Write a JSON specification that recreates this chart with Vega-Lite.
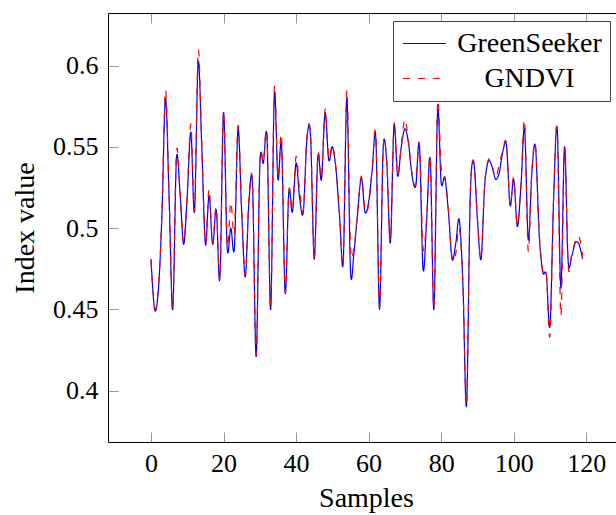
{
  "$schema": "https://vega.github.io/schema/vega-lite/v6.json",
  "autosize": {"type": "none"},
  "padding": {"left": 108, "top": 13, "right": 0, "bottom": 73},
  "width": 508,
  "height": 429,
  "config": {
    "view": {"stroke": null},
    "font": "Liberation Serif",
    "axis": {
      "grid": false,
      "tickSize": -10,
      "tickColor": "#999999",
      "tickWidth": 1,
      "domainColor": "black",
      "domainWidth": 1,
      "labelFont": "Liberation Serif",
      "labelFontSize": 26,
      "labelColor": "black",
      "titleFont": "Liberation Serif",
      "titleFontSize": 28,
      "titleFontWeight": "normal",
      "titleColor": "black"
    },
    "legend": {
      "orient": "none", "legendX": 285, "legendY": 8, "title": null,
      "strokeColor": "#444444", "fillColor": "white", "padding": 8,
      "labelFont": "Liberation Serif", "labelFontSize": 28, "labelColor": "black",
      "labelAlign": "center", "labelOffset": 99.5, "labelLimit": 400,
      "symbolType": "M-0.93,0H2.26", "symbolSize": 729, "symbolStrokeWidth": 1.2,
      "rowPadding": 6, "cornerRadius": 0
    }
  },
  "data": {
    "values": [
      {"x": 0, "GreenSeeker": 0.481, "GNDVI": 0.480},
      {"x": 1, "GreenSeeker": 0.450, "GNDVI": 0.451},
      {"x": 2, "GreenSeeker": 0.461, "GNDVI": 0.462},
      {"x": 3, "GreenSeeker": 0.507, "GNDVI": 0.508},
      {"x": 4, "GreenSeeker": 0.580, "GNDVI": 0.585},
      {"x": 5, "GreenSeeker": 0.518, "GNDVI": 0.520},
      {"x": 6, "GreenSeeker": 0.450, "GNDVI": 0.451},
      {"x": 7, "GreenSeeker": 0.542, "GNDVI": 0.546},
      {"x": 8, "GreenSeeker": 0.522, "GNDVI": 0.523},
      {"x": 9, "GreenSeeker": 0.490, "GNDVI": 0.491},
      {"x": 10, "GreenSeeker": 0.520, "GNDVI": 0.522},
      {"x": 11, "GreenSeeker": 0.559, "GNDVI": 0.564},
      {"x": 12, "GreenSeeker": 0.510, "GNDVI": 0.511},
      {"x": 13, "GreenSeeker": 0.602, "GNDVI": 0.609},
      {"x": 14, "GreenSeeker": 0.550, "GNDVI": 0.552},
      {"x": 15, "GreenSeeker": 0.490, "GNDVI": 0.491},
      {"x": 16, "GreenSeeker": 0.520, "GNDVI": 0.524},
      {"x": 17, "GreenSeeker": 0.490, "GNDVI": 0.491},
      {"x": 18, "GreenSeeker": 0.511, "GNDVI": 0.513},
      {"x": 19, "GreenSeeker": 0.469, "GNDVI": 0.470},
      {"x": 20, "GreenSeeker": 0.571, "GNDVI": 0.572},
      {"x": 21, "GreenSeeker": 0.488, "GNDVI": 0.490},
      {"x": 22, "GreenSeeker": 0.500, "GNDVI": 0.516},
      {"x": 23, "GreenSeeker": 0.488, "GNDVI": 0.497},
      {"x": 24, "GreenSeeker": 0.561, "GNDVI": 0.563},
      {"x": 25, "GreenSeeker": 0.510, "GNDVI": 0.512},
      {"x": 26, "GreenSeeker": 0.470, "GNDVI": 0.471},
      {"x": 27, "GreenSeeker": 0.516, "GNDVI": 0.518},
      {"x": 28, "GreenSeeker": 0.526, "GNDVI": 0.527},
      {"x": 29, "GreenSeeker": 0.421, "GNDVI": 0.422},
      {"x": 30, "GreenSeeker": 0.538, "GNDVI": 0.539},
      {"x": 31, "GreenSeeker": 0.540, "GNDVI": 0.541},
      {"x": 32, "GreenSeeker": 0.555, "GNDVI": 0.556},
      {"x": 33, "GreenSeeker": 0.450, "GNDVI": 0.451},
      {"x": 34, "GreenSeeker": 0.582, "GNDVI": 0.586},
      {"x": 35, "GreenSeeker": 0.530, "GNDVI": 0.531},
      {"x": 36, "GreenSeeker": 0.551, "GNDVI": 0.556},
      {"x": 37, "GreenSeeker": 0.460, "GNDVI": 0.461},
      {"x": 38, "GreenSeeker": 0.522, "GNDVI": 0.523},
      {"x": 39, "GreenSeeker": 0.510, "GNDVI": 0.511},
      {"x": 40, "GreenSeeker": 0.540, "GNDVI": 0.544},
      {"x": 41, "GreenSeeker": 0.518, "GNDVI": 0.523},
      {"x": 42, "GreenSeeker": 0.510, "GNDVI": 0.511},
      {"x": 43, "GreenSeeker": 0.555, "GNDVI": 0.556},
      {"x": 44, "GreenSeeker": 0.556, "GNDVI": 0.557},
      {"x": 45, "GreenSeeker": 0.481, "GNDVI": 0.482},
      {"x": 46, "GreenSeeker": 0.544, "GNDVI": 0.545},
      {"x": 47, "GreenSeeker": 0.530, "GNDVI": 0.531},
      {"x": 48, "GreenSeeker": 0.571, "GNDVI": 0.573},
      {"x": 49, "GreenSeeker": 0.542, "GNDVI": 0.543},
      {"x": 50, "GreenSeeker": 0.550, "GNDVI": 0.551},
      {"x": 51, "GreenSeeker": 0.536, "GNDVI": 0.537},
      {"x": 52, "GreenSeeker": 0.507, "GNDVI": 0.508},
      {"x": 53, "GreenSeeker": 0.479, "GNDVI": 0.480},
      {"x": 54, "GreenSeeker": 0.580, "GNDVI": 0.585},
      {"x": 55, "GreenSeeker": 0.474, "GNDVI": 0.489},
      {"x": 56, "GreenSeeker": 0.486, "GNDVI": 0.489},
      {"x": 57, "GreenSeeker": 0.510, "GNDVI": 0.511},
      {"x": 58, "GreenSeeker": 0.531, "GNDVI": 0.532},
      {"x": 59, "GreenSeeker": 0.510, "GNDVI": 0.511},
      {"x": 60, "GreenSeeker": 0.516, "GNDVI": 0.514},
      {"x": 61, "GreenSeeker": 0.536, "GNDVI": 0.537},
      {"x": 62, "GreenSeeker": 0.555, "GNDVI": 0.556},
      {"x": 63, "GreenSeeker": 0.450, "GNDVI": 0.451},
      {"x": 64, "GreenSeeker": 0.548, "GNDVI": 0.549},
      {"x": 65, "GreenSeeker": 0.540, "GNDVI": 0.541},
      {"x": 66, "GreenSeeker": 0.491, "GNDVI": 0.492},
      {"x": 67, "GreenSeeker": 0.563, "GNDVI": 0.564},
      {"x": 68, "GreenSeeker": 0.532, "GNDVI": 0.533},
      {"x": 69, "GreenSeeker": 0.550, "GNDVI": 0.551},
      {"x": 70, "GreenSeeker": 0.561, "GNDVI": 0.567},
      {"x": 71, "GreenSeeker": 0.552, "GNDVI": 0.553},
      {"x": 72, "GreenSeeker": 0.532, "GNDVI": 0.533},
      {"x": 73, "GreenSeeker": 0.526, "GNDVI": 0.527},
      {"x": 74, "GreenSeeker": 0.551, "GNDVI": 0.552},
      {"x": 75, "GreenSeeker": 0.475, "GNDVI": 0.488},
      {"x": 76, "GreenSeeker": 0.505, "GNDVI": 0.506},
      {"x": 77, "GreenSeeker": 0.542, "GNDVI": 0.543},
      {"x": 78, "GreenSeeker": 0.450, "GNDVI": 0.451},
      {"x": 79, "GreenSeeker": 0.571, "GNDVI": 0.576},
      {"x": 80, "GreenSeeker": 0.528, "GNDVI": 0.537},
      {"x": 81, "GreenSeeker": 0.531, "GNDVI": 0.532},
      {"x": 82, "GreenSeeker": 0.510, "GNDVI": 0.511},
      {"x": 83, "GreenSeeker": 0.481, "GNDVI": 0.482},
      {"x": 84, "GreenSeeker": 0.490, "GNDVI": 0.484},
      {"x": 85, "GreenSeeker": 0.505, "GNDVI": 0.500},
      {"x": 86, "GreenSeeker": 0.465, "GNDVI": 0.466},
      {"x": 87, "GreenSeeker": 0.391, "GNDVI": 0.392},
      {"x": 88, "GreenSeeker": 0.518, "GNDVI": 0.519},
      {"x": 89, "GreenSeeker": 0.540, "GNDVI": 0.541},
      {"x": 90, "GreenSeeker": 0.505, "GNDVI": 0.506},
      {"x": 91, "GreenSeeker": 0.481, "GNDVI": 0.482},
      {"x": 92, "GreenSeeker": 0.526, "GNDVI": 0.527},
      {"x": 93, "GreenSeeker": 0.541, "GNDVI": 0.542},
      {"x": 94, "GreenSeeker": 0.538, "GNDVI": 0.539},
      {"x": 95, "GreenSeeker": 0.530, "GNDVI": 0.531},
      {"x": 96, "GreenSeeker": 0.534, "GNDVI": 0.539},
      {"x": 97, "GreenSeeker": 0.547, "GNDVI": 0.548},
      {"x": 98, "GreenSeeker": 0.551, "GNDVI": 0.552},
      {"x": 99, "GreenSeeker": 0.514, "GNDVI": 0.515},
      {"x": 100, "GreenSeeker": 0.530, "GNDVI": 0.531},
      {"x": 101, "GreenSeeker": 0.501, "GNDVI": 0.502},
      {"x": 102, "GreenSeeker": 0.526, "GNDVI": 0.527},
      {"x": 103, "GreenSeeker": 0.561, "GNDVI": 0.566},
      {"x": 104, "GreenSeeker": 0.493, "GNDVI": 0.486},
      {"x": 105, "GreenSeeker": 0.534, "GNDVI": 0.535},
      {"x": 106, "GreenSeeker": 0.550, "GNDVI": 0.551},
      {"x": 107, "GreenSeeker": 0.497, "GNDVI": 0.498},
      {"x": 108, "GreenSeeker": 0.473, "GNDVI": 0.474},
      {"x": 109, "GreenSeeker": 0.471, "GNDVI": 0.472},
      {"x": 110, "GreenSeeker": 0.440, "GNDVI": 0.434},
      {"x": 111, "GreenSeeker": 0.518, "GNDVI": 0.519},
      {"x": 112, "GreenSeeker": 0.561, "GNDVI": 0.560},
      {"x": 113, "GreenSeeker": 0.463, "GNDVI": 0.446},
      {"x": 114, "GreenSeeker": 0.550, "GNDVI": 0.549},
      {"x": 115, "GreenSeeker": 0.480, "GNDVI": 0.477},
      {"x": 116, "GreenSeeker": 0.483, "GNDVI": 0.484},
      {"x": 117, "GreenSeeker": 0.491, "GNDVI": 0.492},
      {"x": 118, "GreenSeeker": 0.490, "GNDVI": 0.495},
      {"x": 119, "GreenSeeker": 0.481, "GNDVI": 0.483}
    ]
  },
  "transform": [{"fold": ["GreenSeeker", "GNDVI"], "as": ["series", "value"]}],
  "layer": [
    {
      "transform": [{"filter": "datum.series === 'GreenSeeker'"}],
      "mark": {"type": "line", "interpolate": "cardinal", "strokeWidth": 1.2},
      "encoding": {
        "x": {
          "field": "x", "type": "quantitative",
          "scale": {"domain": [-11.85, 128.2], "nice": false, "zero": false},
          "axis": {"orient": "bottom", "values": [0, 20, 40, 60, 80, 100, 120], "title": "Samples", "labelBaseline": "alphabetic", "labelPadding": 39.7, "titleBaseline": "alphabetic", "titleX": 258, "titleY": 64}
        },
        "y": {
          "field": "value", "type": "quantitative",
          "scale": {"domain": [0.3684, 0.6323], "nice": false, "zero": false},
          "axis": {"orient": "left", "values": [0.4, 0.45, 0.5, 0.55, 0.6], "format": ".2~f", "title": "Index value", "labelPadding": 20, "titleBaseline": "alphabetic", "titleAngle": 270, "titleX": -75, "titleY": 214.5}
        },
        "color": {
          "field": "series", "type": "nominal",
          "scale": {"domain": ["GreenSeeker", "GNDVI"], "range": ["#0000ff", "#ff0000"]}
        },
        "strokeDash": {
          "field": "series", "type": "nominal",
          "scale": {"domain": ["GreenSeeker", "GNDVI"], "range": [[1, 0], [7, 8]]}
        }
      }
    },
    {
      "transform": [{"filter": "datum.series === 'GNDVI'"}],
      "mark": {"type": "line", "interpolate": "cardinal", "strokeWidth": 1.2},
      "encoding": {
        "x": {"field": "x", "type": "quantitative", "axis": null},
        "y": {"field": "value", "type": "quantitative"},
        "color": {"field": "series", "type": "nominal"},
        "strokeDash": {"field": "series", "type": "nominal"}
      }
    },
    {
      "transform": [{"filter": "datum.series === 'GreenSeeker'"}],
      "mark": {"type": "line", "strokeOpacity": 0, "color": "white"},
      "encoding": {
        "x": {
          "field": "x", "type": "quantitative",
          "axis": {"orient": "top", "values": [0, 20, 40, 60, 80, 100, 120], "labels": false, "title": null}
        },
        "y": {"field": "value", "type": "quantitative"}
      }
    }
  ],
  "resolve": {"axis": {"x": "independent"}}
}
